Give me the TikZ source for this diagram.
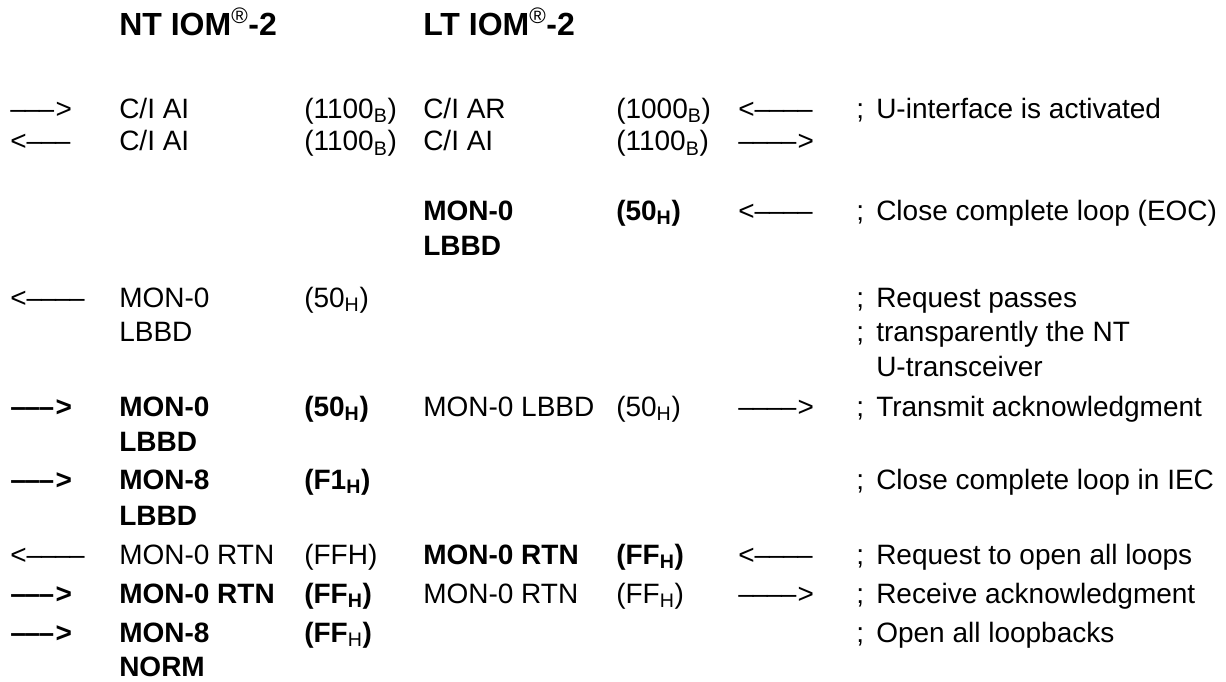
\documentclass[tikz,border=0pt]{standalone}
\usepackage{fontspec}
\setmainfont{Liberation Sans}
\usetikzlibrary{positioning}

% text arrows of the listing
\newcommand{\dsh}{\textendash\kern-0.05em}
\newcommand{\snd}{\dsh\dsh\dsh\kern0.1em>}
\newcommand{\rcv}{<\dsh\dsh\dsh}
\newcommand{\rcvlong}{<\dsh\dsh\dsh\dsh}
\newcommand{\sndlong}{\dsh\dsh\dsh\dsh\kern0.1em>}
\newcommand{\hexv}[1]{(#1\textsubscript{H})}
\newcommand{\binv}[1]{(#1\textsubscript{B})}

\begin{document}
\begin{tikzpicture}[
    x=0.75pt, y=-0.75pt,
    cell/.style={anchor=base west, inner sep=0pt, font=\fontsize{21}{25}\selectfont},
    bcell/.style={cell, font=\fontsize{21}{25}\selectfont\bfseries},
    head/.style={anchor=base west, inner sep=0pt, font=\fontsize{24}{29}\selectfont\bfseries}
]
\useasboundingbox (0,0) rectangle (1226,681);

% === Column heads ===
\node[head] (nt) at (119,36) {NT IOM\textsuperscript{\mdseries\textregistered}-2};
\node[head] (lt) at (423,36) {LT IOM\textsuperscript{\mdseries\textregistered}-2};

% === Activation ===
\node[cell] (arrL1) at (10,118) {\snd};
\node[cell] (ntCmd1) at (119,118) {C/I AI};
\node[cell] (ntCode1) at (304,118) {\binv{1100}};
\node[cell] (ltCmd1) at (423,118) {C/I AR};
\node[cell] (ltCode1) at (616,118) {\binv{1000}};
\node[cell] (arrR1) at (738,118) {\rcvlong};
\node[cell] (semi1) at (856,118) {;};
\node[cell] (note1) at (876,118) {U-interface is activated};

\node[cell] (arrL2) at (10,151) {\rcv};
\node[cell] (ntCmd2) at (119,151) {C/I AI};
\node[cell] (ntCode2) at (304,151) {\binv{1100}};
\node[cell] (ltCmd2) at (423,151) {C/I AI};
\node[cell] (ltCode2) at (616,151) {\binv{1100}};
\node[cell] (arrR2) at (738,151) {\sndlong};

% === Close complete loop ===
\node[bcell] (ltCmd3) at (423,220) {MON-0};
\node[bcell] (ltCmd3b) at (423,255) {LBBD};
\node[bcell] (ltCode3) at (616,220) {\hexv{50}};
\node[cell] (arrR3) at (738,220) {\rcvlong};
\node[cell] (semi3) at (856,220) {;};
\node[cell] (note3) at (876,220) {Close complete loop (EOC)};

\node[cell] (arrL4) at (10,307) {\rcvlong};
\node[cell] (ntCmd4) at (119,307) {MON-0};
\node[cell] (ntCmd4b) at (119,341) {LBBD};
\node[cell] (ntCode4) at (304,307) {\hexv{50}};
\node[cell] (semi4) at (856,307) {;};
\node[cell] (note4) at (876,307) {Request passes};
\node[cell] (semi4b) at (856,341) {;};
\node[cell] (note4b) at (876,341) {transparently the NT};
\node[cell] (note4c) at (876,376) {U-transceiver};

\node[bcell] (arrL5) at (10,416) {\snd};
\node[bcell] (ntCmd5) at (119,416) {MON-0};
\node[bcell] (ntCmd5b) at (119,451) {LBBD};
\node[bcell] (ntCode5) at (304,416) {\hexv{50}};
\node[cell] (ltCmd5) at (423,416) {MON-0 LBBD};
\node[cell] (ltCode5) at (616,416) {\hexv{50}};
\node[cell] (arrR5) at (738,416) {\sndlong};
\node[cell] (semi5) at (856,416) {;};
\node[cell] (note5) at (876,416) {Transmit acknowledgment};

\node[bcell] (arrL6) at (10,489) {\snd};
\node[bcell] (ntCmd6) at (119,489) {MON-8};
\node[bcell] (ntCmd6b) at (119,525) {LBBD};
\node[bcell] (ntCode6) at (304,489) {\hexv{F1}};
\node[cell] (semi6) at (856,489) {;};
\node[cell] (note6) at (876,489) {Close complete loop in IEC};

% === Open all loops ===
\node[cell] (arrL7) at (10,564) {\rcvlong};
\node[cell] (ntCmd7) at (119,564) {MON-0 RTN};
\node[cell] (ntCode7) at (304,564) {(FFH)};
\node[bcell] (ltCmd7) at (423,564) {MON-0 RTN};
\node[bcell] (ltCode7) at (616,564) {\hexv{FF}};
\node[cell] (arrR7) at (738,564) {\rcvlong};
\node[cell] (semi7) at (856,564) {;};
\node[cell] (note7) at (876,564) {Request to open all loops};

\node[bcell] (arrL8) at (10,603) {\snd};
\node[bcell] (ntCmd8) at (119,603) {MON-0 RTN};
\node[bcell] (ntCode8) at (304,603) {\hexv{FF}};
\node[cell] (ltCmd8) at (423,603) {MON-0 RTN};
\node[cell] (ltCode8) at (616,603) {\hexv{FF}};
\node[cell] (arrR8) at (738,603) {\sndlong};
\node[cell] (semi8) at (856,603) {;};
\node[cell] (note8) at (876,603) {Receive acknowledgment};

\node[bcell] (arrL9) at (10,642) {\snd};
\node[bcell] (ntCmd9) at (119,642) {MON-8};
\node[bcell] (ntCmd9b) at (119,676) {NORM};
\node[bcell] (ntCode9) at (304,642) {(FF\textsubscript{\mdseries H})};
\node[cell] (semi9) at (856,642) {;};
\node[cell] (note9) at (876,642) {Open all loopbacks};

\end{tikzpicture}
\end{document}
